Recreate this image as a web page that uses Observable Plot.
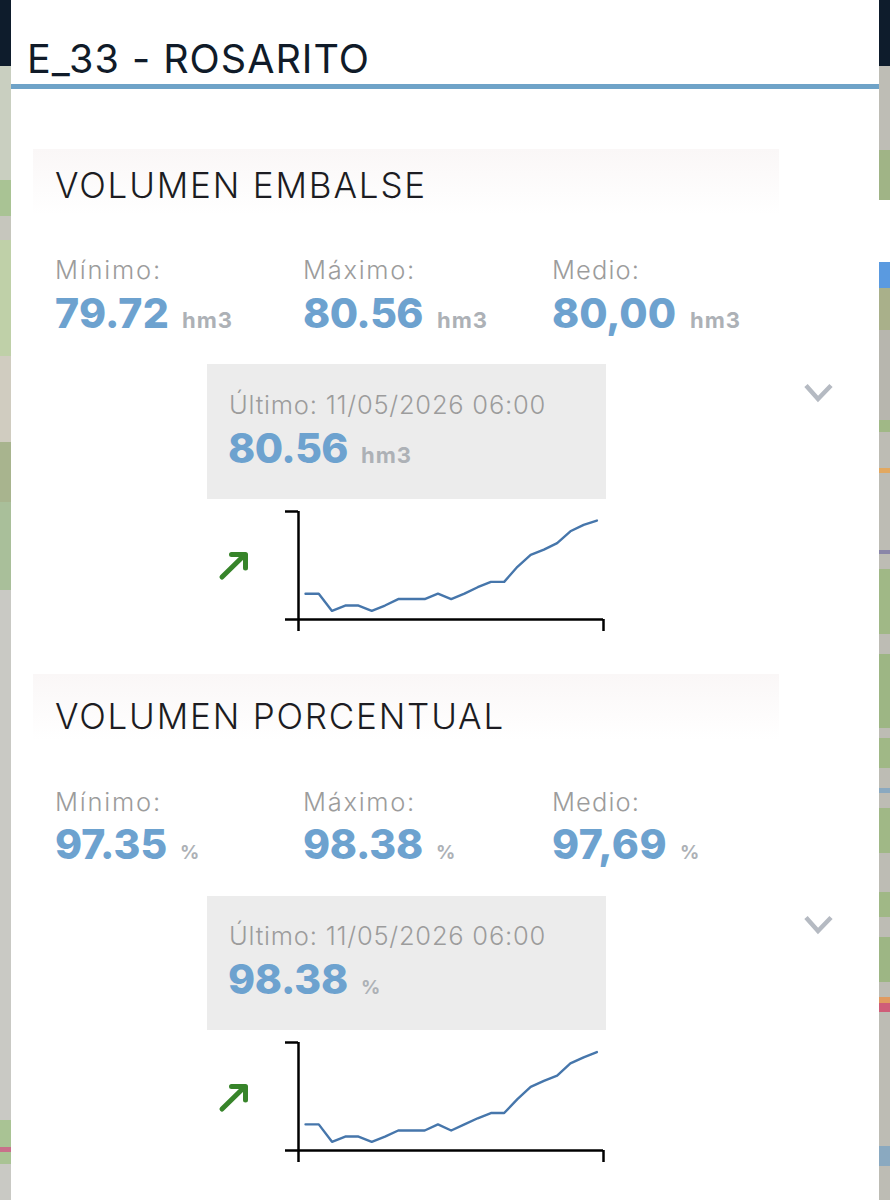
<!DOCTYPE html>
<html lang="es">
<head>
<meta charset="utf-8">
<script src="https://cdn.jsdelivr.net/npm/d3@7"></script>
<script src="https://cdn.jsdelivr.net/npm/@observablehq/plot@0.6"></script>
<style>
html,body{margin:0;padding:0;background:#fff;}
#page{position:relative;width:890px;height:1200px;overflow:hidden;background:#fff;font-family:Inter,"Noto Sans",sans-serif;}
#page div.a{position:absolute;}
.t{position:absolute;white-space:nowrap;line-height:1;}
</style>
</head>
<body>
<div id="page"></div>
<script>
// ---- chart data ----
const volumeHm3 = [79.88,79.88,79.72,79.77,79.77,79.72,79.77,79.83,79.83,79.83,79.88,79.83,79.88,79.94,79.99,79.99,80.13,80.24,80.29,80.35,80.46,80.52,80.56];
const volumePct = [97.55,97.55,97.35,97.41,97.41,97.35,97.41,97.48,97.48,97.48,97.55,97.48,97.55,97.62,97.68,97.68,97.84,97.98,98.05,98.11,98.25,98.32,98.38];
const statLabels = ["Mínimo:","Máximo:","Medio:"];
const sectionTitles = ["VOLUMEN EMBALSE","VOLUMEN PORCENTUAL"];
const stationTitle = "E_33 - ROSARITO";
const lastLabel = "Último: 11/05/2026 06:00";
const hm3Stats = ["79.72","80.56","80,00"];
const pctStats = ["97.35","98.38","97,69"];
const lastValues = ["80.56","98.38"];
const units = ["hm3","%"];
const yDomains = [[79.64,80.644],[97.25,98.49]];
const xDomain = [-0.53,22.5];

const page = document.getElementById("page");
function box(x,y,w,h,bg){const d=document.createElement("div");d.className="a";d.style.cssText=`left:${x}px;top:${y}px;width:${w}px;height:${h}px;background:${bg}`;page.appendChild(d);return d;}
// text placed by left edge and baseline; letter-spacing fitted to the target width
function text(s,x,base,size,weight,color,w){
  const d=document.createElement("div");d.className="t";d.textContent=s;
  d.style.cssText=`left:${x}px;top:${base-0.8635*size}px;font-size:${size}px;font-weight:${weight};color:${color}`;
  page.appendChild(d);
  if(w){const cur=d.getBoundingClientRect().width;d.style.letterSpacing=((w-cur)/s.length)+"px";}
  return d;
}
// ---- map strips behind the panel ----
const G="#a9c394",M="#c6c6bd";
const leftPatches=[[66,124,"#c9cfc0"],[180,36,G],[216,24,M],[240,116,"#bfd0a8"],[356,86,"#d0ccc0"],[442,60,"#a8b48e"],[502,88,"#a9bf9a"],[590,530,"#c9c9c4"],[1120,28,"#a9c394"],[1147,5,"#c8708a"],[1152,12,"#a9c394"],[1164,36,"#c9c9c4"]];
const rightPatches=[[66,84,"#bebdb5"],[150,50,"#a0b486"],[200,64,"#ffffff"],[262,26,"#5a9ae0"],[288,42,"#a9b08a"],[330,90,"#b7b6ae"],[420,12,"#a0b886"],[432,36,"#bdbcb4"],[468,5,"#e2a860"],[473,77,"#bdbcb4"],[550,4,"#8a86a8"],[554,15,"#bdbcb4"],[569,65,"#a0b886"],[634,20,"#bdbcb4"],[654,74,"#9db684"],[728,10,"#bdbcb4"],[738,30,"#a0b886"],[768,20,"#bdbcb4"],[788,5,"#8aa9c0"],[793,15,"#bdbcb4"],[808,45,"#a0b886"],[853,39,"#bdbcb4"],[892,25,"#a0b886"],[917,20,"#bdbcb4"],[937,45,"#9db684"],[982,15,"#bdbcb4"],[997,6,"#e09a60"],[1003,9,"#cf5d78"],[1012,134,"#bdbcb4"],[1146,20,"#8aa9c0"],[1166,34,"#bdbcb4"]];
leftPatches.forEach(([y,h,c])=>box(0,y,11,h,c));
rightPatches.forEach(([y,h,c])=>box(879,y,11,h,c));
box(0,0,11,66,"#0e1c2c");box(879,0,11,66,"#0e1c2c");
box(11,84,868,4.5,"#6fa3c8");
text(stationTitle,27,74,39.5,400,"#101b29",343);

// ---- one section ----
const blue="#6da2cf",grey="#9c9c9c",unitGrey="#adb1b6";
const statX=[55,303,552];
const layouts=[
 {off:0,boxTop:149,stats:hm3Stats,w:[114,120,124],unitX:[182,437,690],unitSize:22,unitW:51,titleW:372,lastW:120,lastUnitX:361,lastUnitW:51,labelW:[107,113,88]},
 {off:531.5,boxTop:674,stats:pctStats,w:[112,120,115],unitX:[180,436,680],unitSize:19,unitW:19,titleW:450,lastW:120,lastUnitX:361,lastUnitW:19,labelW:[107,113,88]}
];
layouts.forEach((L,i)=>{
  const o=L.off;
  box(33,L.boxTop,746,66,"linear-gradient(#faf7f7,#ffffff)");
  text(sectionTitles[i],55,198+o,35,300,"#1c1c22",L.titleW);
  statLabels.forEach((s,j)=>{
    text(s,statX[j],279.500+o,25.500,300,grey,L.labelW[j]);
    text(L.stats[j],statX[j],328+o,41,800,blue,L.w[j]);
    text(units[i],L.unitX[j],328+o,L.unitSize,700,unitGrey,L.unitW);
  });
  box(207,364+o,399,134.5,"#ececec");
  text(lastLabel,229,414+o,25.500,300,grey,317);
  text(lastValues[i],228,463+o,41,800,blue,L.lastW);
  text(units[i],L.lastUnitX,463+o,L.unitSize,700,unitGrey,L.lastUnitW);

  // chevron and trend arrow (page furniture)
  const deco=document.createElementNS("http://www.w3.org/2000/svg","svg");
  deco.setAttribute("width",890);deco.setAttribute("height",1200);
  deco.style.cssText=`position:absolute;left:0;top:${o}px;pointer-events:none`;
  deco.innerHTML=`<path d="M806 385.500L818 399L831 385.500" fill="none" stroke="#b5bac2" stroke-width="4.500"/>
  <path d="M222 577L244 555.500M231.500 554.500H245.500V568" fill="none" stroke="#37842a" stroke-width="5" stroke-linecap="round" stroke-linejoin="round"/>`;
  page.appendChild(deco);

  // ---- the chart ----
  const series=i===0?volumeHm3:volumePct;
  const rows=series.map((v,k)=>({k,v}));
  const dom=yDomains[i];
  const chart=Plot.plot({
    width:335,height:130,marginLeft:20,marginRight:10,marginTop:5,marginBottom:17,
    style:{background:"transparent",position:"absolute",left:"277.500px",top:(505.500+o)+"px",overflow:"visible"},
    x:{domain:xDomain,axis:null},
    y:{domain:dom,axis:null},
    marks:[
      Plot.ruleX([xDomain[0]],{stroke:"#000",strokeWidth:2.5}),
      Plot.ruleY([dom[0]],{x1:xDomain[0],x2:xDomain[1],insetLeft:-13,stroke:"#000",strokeWidth:2.5}),
      Plot.ruleY([dom[1]],{x1:xDomain[0],x2:xDomain[0],insetLeft:-13,stroke:"#000",strokeWidth:2.5}),
      Plot.ruleX(xDomain,{y1:dom[0],y2:dom[0],insetBottom:-12,stroke:"#000",strokeWidth:2.5}),
      Plot.line(rows,{x:"k",y:"v",stroke:"#4676ab",strokeWidth:2.4})
    ]
  });
  page.appendChild(chart);
});
</script>
</body>
</html>
